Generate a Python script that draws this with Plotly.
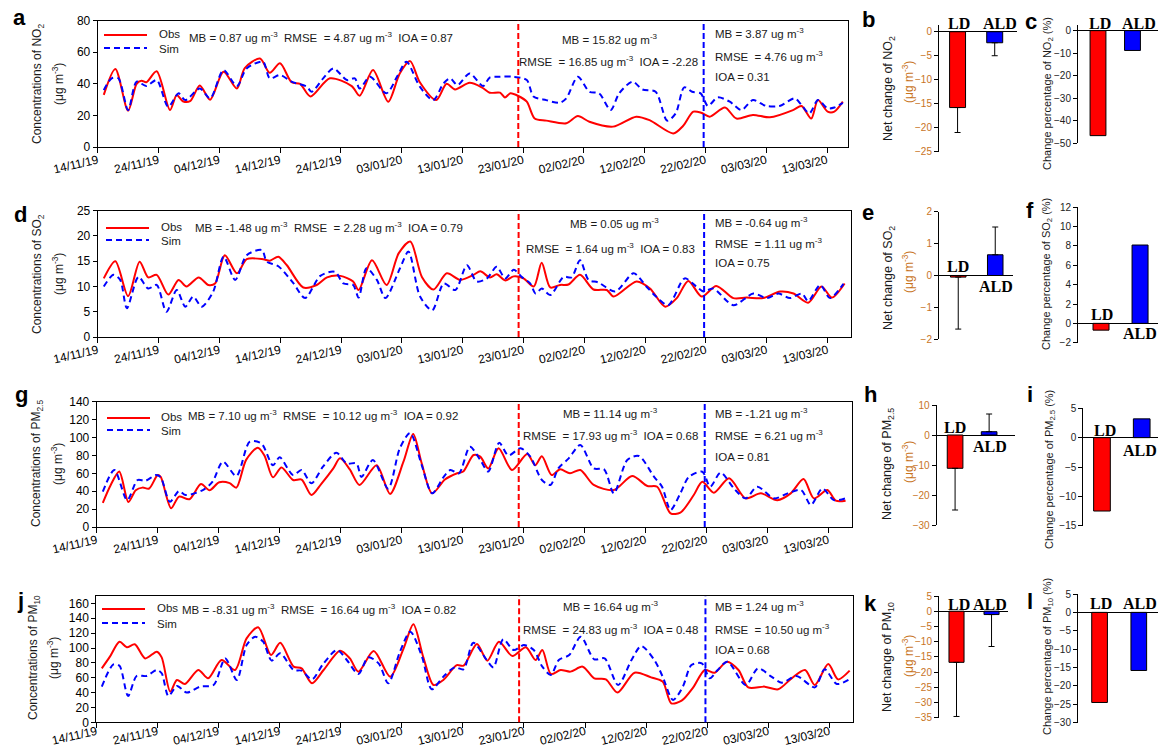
import plotly.graph_objects as go

W, H = 1158, 748
FONT = "Liberation Sans, Arial, sans-serif"
SERIF = "Liberation Serif, Times New Roman, serif"

# ---------------- data ----------------
tick_days = [0, 10, 20, 30, 40, 50, 60, 70, 80, 90, 100, 110, 120]
tick_labels = ["14/11/19", "24/11/19", "04/12/19", "14/12/19", "24/12/19", "03/01/20",
               "13/01/20", "23/01/20", "02/02/20", "12/02/20", "22/02/20", "03/03/20", "13/03/20"]
event_days = [69.2, 99.7]          # lockdown start / after-lockdown start (days since 14/11/19)
event_colors = ["#FF0000", "#0000FF"]

no2_obs_day = [1, 2.9, 5, 6.4, 7.2, 8, 9.7, 11.9, 13, 14, 15.2, 16.8, 18.5, 20.7, 22.9, 24.2, 26.7, 28.3, 30,
               31.9, 33.3, 35, 38.2, 41.8, 43.1, 45.3, 47.8, 49.7, 51.4, 53, 55.7, 57.4, 58.8, 61.2, 63.2,
               64.5, 66.2, 67, 67.9, 69.2, 70.6, 71.9, 73.8, 77.1, 79, 80.9, 84.8, 88.6, 90.8, 94.7, 96.3,
               98, 99.3, 100.7, 103.2, 105.1, 107.8, 110.6, 114.4, 115.8, 117.4, 118.5, 120.1, 121.2, 122.6]
no2_obs = [33, 49.4, 23, 40, 42, 41, 48, 23.4, 33, 29, 29, 39, 30, 47.7, 37, 50, 56, 47, 53,
           41, 40, 32, 43.5, 38.6, 32.5, 48.7, 28.7, 46.6, 54.4, 41, 29.7, 40, 36.5, 40.7, 37.8,
           34.4, 34.4, 31.4, 34, 32.3, 28.7, 18, 16.7, 15, 19.6, 16, 12.9, 19.2, 17, 8.6, 13.3,
           22.4, 21.7, 19.2, 25, 18, 20.3, 18.8, 23.4, 26, 18, 29.7, 22.4, 22.4, 28.7]
no2_sim_day = [1, 2.3, 3.4, 5, 6.4, 8, 9.7, 11.6, 13.3, 14.4, 16.8, 18.5, 20.7, 22.9, 24.5, 27.2, 28.3, 30,
               31.9, 34.4, 35.2, 37.1, 38.8, 41, 42.3, 43.1, 44.8, 47.5, 49.4, 50.8, 53, 55.2, 56.9, 58,
               59.2, 61.2, 63.4, 64.5, 66.2, 68.4, 70.6, 71.7, 73.8, 76, 77.1, 79, 80.9, 82.5, 84.4, 85.8,
               88, 89.6, 91.8, 93.7, 95.1, 96.5, 97.8, 99.2, 100.4, 102, 104, 105.9, 107.8, 110, 112.2,
               114.7, 115.8, 117.1, 118.5, 120.1, 121.2, 122.6]
no2_sim = [36, 43.5, 43.5, 23.4, 41.4, 38.6, 42.4, 25.5, 34, 29.7, 37, 30.8, 48.7, 38.6, 49.8, 54, 43.5, 45.6,
           41.4, 38.2, 35, 43.5, 49.8, 42.4, 43.5, 37, 44.5, 34, 45.6, 54, 38.2, 29.7, 40.3, 43.5,
           39.2, 46.6, 38.6, 44, 44.5, 44.5, 42.4, 32, 29.7, 28, 30.8, 44.5, 35, 34, 23.4, 34,
           41.4, 36.5, 35, 16.7, 21.3, 37.8, 35, 34, 26, 31.4, 28.7, 23.4, 29.7, 26, 26,
           30.8, 26.6, 21.3, 29.7, 24.5, 25, 28]

so2_obs_day = [1, 2.9, 5, 6.9, 8.3, 9.7, 11.6, 13.3, 14.6, 16.6, 18.2, 19.3, 20.9, 22.9, 24.5, 27.2, 28.3, 29.7,
               31.1, 33.8, 36, 37.7, 39.9, 42, 42.9, 45.1, 47.5, 49.5, 51.4, 53.3, 55.2, 57.4, 59.6, 61.8,
               62.9, 64.5, 65.6, 67, 68.4, 70, 71.7, 73, 74.4, 76, 77.4, 79.3, 81.5, 83.7, 84.8, 88.6, 90.8,
               93.3, 95.2, 97.1, 99.3, 101.7, 104.5, 106.7, 109.4, 112.2, 114.4, 116.8, 119, 120.7, 122.8]
so2_obs = [11.6, 15, 8.1, 14.9, 11.8, 12.3, 8.4, 11.3, 10, 11.8, 10.3, 10.6, 16.2, 12.6, 15.4, 15.4, 15.1, 15.9,
           14.2, 9.8, 10.3, 11.8, 12.1, 11, 9.3, 15.2, 10.3, 16.6, 18.9, 11.9, 9.4, 12.6, 11.3, 12.3,
           13, 11.8, 12.4, 11.2, 12, 11.6, 10, 14.7, 9.8, 10.3, 10.4, 12.3, 9.4, 9.3, 8, 11, 9.6,
           6, 7.7, 11.1, 8, 10.1, 7.7, 7.8, 7.7, 9, 8.6, 6.8, 10, 7.8, 10.6]
so2_sim_day = [1, 2.6, 3.7, 4.8, 6.7, 8.3, 9.7, 11.3, 13, 14.4, 15.7, 17.1, 19, 20.7, 22.6, 24.5, 27, 27.8, 29.7,
               32.2, 34.1, 36.6, 39, 40.4, 42, 42.9, 44.2, 45.9, 47.3, 49.7, 51.1, 53, 55, 56.9, 58.8, 60.7,
               62.3, 64, 65.6, 67, 68.4, 69.8, 71.1, 72, 73, 74.4, 76.6, 77.9, 79.3, 80.7, 82.3, 85.1, 88.1,
               90.2, 91.8, 93.8, 96.5, 98.4, 99.6, 101.2, 104.5, 107.8, 110, 111.9, 113.8, 115.8, 116.8,
               118.8, 120.4, 122.6]
so2_sim = [10, 12.3, 11.3, 5.7, 11.9, 9.6, 10.3, 5, 9.3, 6, 8, 6, 9, 15.9, 11.3, 16.2, 17.2, 14.9, 14,
           10.6, 7.7, 12.1, 12.9, 10.6, 10.3, 7.8, 13.6, 11.3, 7.7, 13.6, 16.9, 8, 5.3, 10.6, 9.3, 14.2,
           11, 11.6, 13.9, 11.6, 13.3, 11.8, 10.6, 8.6, 9.6, 8.3, 11.9, 11.8, 15.2, 11.3, 10.8, 9, 12.6,
           10, 8, 6.3, 11.6, 10, 9, 9.6, 6.3, 8.6, 7.7, 8.6, 7.7, 8.6, 7.1,
           10.3, 7.7, 10.5]

pm25_obs_day = [1, 2.3, 3.7, 5.2, 6.4, 7.5, 8.6, 10, 10.5, 12.2, 13.5, 15.2, 17.1, 18.5, 20.1, 21.8, 22.9, 24.5,
                26.4, 27.5, 28.9, 30.3, 32.2, 33.6, 35.2, 36.8, 38.8, 39.9, 41.5, 43.1, 45.9, 48.1, 50.3, 51.9,
                53.3, 55, 57.1, 59.1, 60.1, 61.8, 62.9, 64.2, 65.9, 68.1, 70.6, 71.9, 73, 74.6, 76, 77.6, 79.3,
                81.5, 84.8, 87.8, 90.3, 91.9, 94.1, 95.7, 97.9, 99.3, 101.2, 103.7, 106.4, 108.9, 111.6, 113.8,
                115.9, 117.6, 119.8, 121.2, 122.8]
pm25_obs = [27, 47, 62, 28, 41, 44, 43, 58, 56, 21, 34, 31, 48, 41, 50, 49, 44, 75,
            88.6, 80, 55.5, 66.6, 52.5, 53, 35.7, 48, 65.5, 76.7, 64.4, 47, 69, 37, 73, 104,
            71, 37.6, 53, 60, 62, 80.4, 78.6, 65.5, 88, 63.7, 81.5, 69, 79, 58, 64.4, 60, 63.7,
            47, 41.3, 57, 45.8, 45, 15.3, 16, 35.7, 50.6, 38.3, 54.4, 32, 37.6, 30, 37.6,
            53.6, 32, 41.3, 29.4, 29.4]
pm25_sim_day = [1, 2.9, 5, 6.7, 8, 9.7, 10.5, 12, 13.5, 14.6, 17.4, 19, 20.7, 22.9, 25.1, 27, 28.9, 30, 32.2,
                33.6, 35.2, 37.1, 39.3, 41, 42.6, 43.4, 45.3, 47.8, 49.7, 51.4, 53.3, 55, 56.9, 58, 59.4,
                61.2, 62.9, 64.2, 66, 67.5, 69.5, 71.1, 73, 74.4, 75.7, 77.4, 79.3, 81.5, 83.2, 84.8, 87,
                88.9, 91.4, 92.7, 94.1, 95.7, 97.1, 99.3, 100.6, 102.3, 104.5, 106.4, 108.3, 111.1, 113.3,
                115.5, 117.1, 119, 120.9, 122.8]
pm25_sim = [39.5, 63.7, 30, 52.5, 51.7, 58, 55.5, 28.3, 40.2, 35.7, 41.3, 50.6, 73, 57, 95.3, 93.4, 69, 77.8, 58,
            63.7, 48.8, 67.4, 83, 71, 71, 56, 74.8, 43, 87.9, 105, 69, 37.6, 56, 63.7, 60,
            89.7, 74.8, 62, 94, 80, 88, 78.6, 52.5, 47, 65.5, 76.7, 91.6, 65.5, 64.4, 37.6, 74.8,
            79.3, 56, 45, 19, 37.6, 56, 61.8, 45, 60.7, 43, 32, 45, 32, 37.6,
            41.3, 24.6, 43, 30, 32]

pm10_obs_day = [0.9, 2.2, 3.8, 5, 6.3, 8, 9.9, 10.7, 12.1, 13.2, 14.5, 16.7, 18.3, 20.5, 22.7, 24.6, 26.5, 28.6,
                30.1, 32.3, 33.6, 35.3, 37.2, 39.9, 41.5, 42.9, 45.4, 48.1, 50.3, 51.9, 53.5, 55.2, 56.8, 59,
                60.1, 62.3, 64, 65.9, 68.1, 70.3, 71.9, 73, 74.4, 76, 77.6, 79.6, 81.5, 83.4, 85.3, 88.1, 90.8,
                92.7, 94.1, 95.8, 97.7, 99.6, 101.2, 103.2, 105.1, 106.7, 109.4, 111.6, 113.8, 116, 117.6,
                119.8, 121.4, 123.3]
pm10_obs = [72.6, 88, 108.5, 101, 105, 86, 95, 87.4, 41.3, 57, 51.6, 70.4, 59.2, 83.9, 70.4, 113, 127.8, 90.6,
            107, 74.9, 72.6, 52.5, 70.4, 96.4, 86, 68.2, 96, 61.4, 99.6, 132, 88.3, 50.2, 57, 77,
            76.2, 105.4, 83, 108.5, 89.2, 101, 83.9, 97.3, 65, 70.4, 68.2, 74.9, 59.2, 57.8, 40, 66.8, 60.5,
            54.7, 25.6, 29.1, 47, 70.4, 66.8, 81.6, 70.4, 47, 48, 44.4, 59.2, 70.4, 50.2,
            78.5, 57.8, 69.5]
pm10_sim_day = [0.9, 2.8, 3.8, 5.2, 6.6, 8.2, 9.9, 10.7, 11.8, 13.2, 14.8, 17, 19.2, 21.1, 23, 24.6, 26, 27.3,
                28.7, 30.1, 32.3, 33.6, 35.3, 37.2, 39.4, 41, 42.9, 44.5, 46.2, 47.8, 49.7, 51.4, 53.3, 54.9,
                56.8, 58.7, 60.1, 61.7, 63.9, 65, 66.6, 68.3, 70, 71.6, 73, 74.4, 75.7, 77.4, 79.3, 81.5, 83.2,
                85.4, 87.6, 89.2, 91.4, 92.7, 94.4, 96, 97.4, 99.1, 100.4, 101.7, 103.3, 106.3, 108.3, 110.5,
                112.2, 114.6, 117.6, 119.2, 121.2, 123.1]
pm10_sim = [48, 78, 76, 35.4, 62.3, 62.3, 70.4, 66, 35.4, 48.9, 40, 48, 50.2, 86, 57, 104, 115, 108.5,
            83, 92.8, 70.4, 69.5, 57.8, 79.4, 97.3, 83.9, 65, 87.4, 79.4, 52.5, 95, 122, 88.3, 44.4,
            61.4, 74, 71.3, 107, 83.9, 74, 111.7, 97.3, 104, 97.3, 74.9, 63.7, 83.9, 90.6, 115, 84.8, 86,
            50.2, 83.9, 102.7, 83, 61.4, 30, 48, 77, 79.4, 59.2, 70.4, 81.6, 50.2, 72.6, 61.4,
            53.4, 62.3, 47, 71.3, 51.6, 57]

periods = ["LD", "ALD"]
bar_colors = ["#FF0000", "#0000FF"]
net_no2 = [-15.8, -2.3];   net_no2_up = [0, 0];     net_no2_down = [5.2, 2.7]
pct_no2 = [-46.6, -8.8]
net_so2 = [-0.05, 0.65];   net_so2_up = [0, 0.87];  net_so2_down = [1.63, 0]
pct_so2 = [-0.7, 8.1]
net_pm25 = [-11.1, 1.1];   net_pm25_up = [0, 5.9];  net_pm25_down = [13.9, 0]
pct_pm25 = [-12.5, 3.2]
net_pm10 = [-16.8, -1.1];  net_pm10_up = [0, 0];    net_pm10_down = [17.8, 10.5]
pct_pm10 = [-24.5, -15.8]

# ---------------- helpers ----------------
def fx(p):
    return p / W

def fy(p):
    return 1 - p / H

def suf(n):
    return "" if n == 1 else str(n)

fig = go.Figure()
layout = dict(template="none", width=W, height=H, margin=dict(l=0, r=0, t=0, b=0, pad=0, autoexpand=False),
              paper_bgcolor="white", plot_bgcolor="rgba(0,0,0,0)", showlegend=False,
              font=dict(family=FONT, color="black", size=12))
ann = []
shapes = []

def text(x, y, s, size=12, color="#1a1a1a", xanchor="left", angle=0, family=FONT, bold=False):
    if bold:
        s = "<b>" + s + "</b>"
    ann.append(dict(x=fx(x), y=fy(y), xref="paper", yref="paper", text=s, showarrow=False,
                    xanchor=xanchor, yanchor="middle", textangle=angle,
                    font=dict(size=size, color=color, family=family)))

U = "ug m<sup>-3</sup>"
MU = "(\u03bcg m<sup>-3</sup>)"

ts_panels = [
    dict(n=1, letter="a", lpos=(19, 18), sp="NO<sub>2</sub>", xd=(97.7, 848), yd=(20.7, 147), xmax=123.45,
         yr=(0, 80), dt=20, obs=(no2_obs_day, no2_obs), sim=(no2_sim_day, no2_sim), so=-4,
         leg=(104, 147, 35, 48, 157), tl=(38, 58, 84),
         s1=(187, 36.7, "MB = 0.87 " + U + "  RMSE  = 4.87 " + U + "  IOA = 0.87"),
         s2=(610, 39, "MB = 15.82 " + U), s3=(608, 61, "RMSE  = 16.85 " + U + "  IOA = -2.28"),
         r=(713, [33, 56, 77], ["MB = 3.87 " + U, "RMSE  = 4.76 " + U, "IOA = 0.31"])),
    dict(n=4, letter="d", lpos=(20, 214), sp="SO<sub>2</sub>", xd=(97.7, 850.7), yd=(210.7, 337), xmax=123.8,
         yr=(0, 25), dt=5, obs=(so2_obs_day, so2_obs), sim=(so2_sim_day, so2_sim), so=-4,
         leg=(106, 149, 228, 240, 159), tl=(38, 58, 274),
         s1=(193, 226.7, "MB = -1.48 " + U + "  RMSE  = 2.28 " + U + "  IOA = 0.79"),
         s2=(614, 223, "MB = 0.05 " + U), s3=(611, 248, "RMSE  = 1.64 " + U + "  IOA = 0.83"),
         r=(713, [222, 243, 263], ["MB = -0.64 " + U, "RMSE  = 1.11 " + U, "IOA = 0.75"])),
    dict(n=7, letter="g", lpos=(21, 394), sp="PM<sub>2.5</sub>", xd=(96.7, 851.7), yd=(401.7, 527), xmax=123.8,
         yr=(0, 140), dt=20, obs=(pm25_obs_day, pm25_obs), sim=(pm25_sim_day, pm25_sim), so=-4,
         leg=(107, 150, 418, 430, 159), tl=(37, 57, 464),
         s1=(186, 415, "MB = 7.10 " + U + "  RMSE  = 10.12 " + U + "  IOA = 0.92"),
         s2=(611, 413, "MB = 11.14 " + U), s3=(611, 435, "RMSE  = 17.93 " + U + "  IOA = 0.68"),
         r=(713, [413, 435, 457], ["MB = -1.21 " + U, "RMSE  = 6.21 " + U, "IOA = 0.81"])),
    dict(n=10, letter="j", lpos=(20, 600), sp="PM<sub>10</sub>", xd=(96.3, 852.7), yd=(596, 722.3), xmax=123.8,
         yr=(0, 170), dt=20, obs=(pm10_obs_day, pm10_obs), sim=(pm10_sim_day, pm10_sim), so=-8,
         leg=(102, 145, 609, 623, 155), tl=(34, 53, 658),
         s1=(180, 609, "MB = -8.31 " + U + "  RMSE  = 16.64 " + U + "  IOA = 0.82"),
         s2=(611, 606, "MB = 16.64 " + U), s3=(611, 629, "RMSE  = 24.83 " + U + "  IOA = 0.48"),
         r=(713, [606, 629, 650], ["MB = 1.24 " + U, "RMSE  = 10.50 " + U, "IOA = 0.68"])),
]

for p in ts_panels:
    n = p["n"]
    xs, ys = "x" + suf(n), "y" + suf(n)
    fig.add_trace(go.Scatter(x=p["obs"][0], y=p["obs"][1], mode="lines", name="Obs",
                             line=dict(color="#FF0000", width=2, shape="spline", smoothing=0.8),
                             xaxis=xs, yaxis=ys))
    fig.add_trace(go.Scatter(x=p["sim"][0], y=p["sim"][1], mode="lines", name="Sim",
                             line=dict(color="#0000FF", width=2, dash="6px,4px", shape="spline", smoothing=0.8),
                             xaxis=xs, yaxis=ys))
    layout["xaxis" + suf(n)] = dict(domain=[fx(p["xd"][0]), fx(p["xd"][1])], range=[0, p["xmax"]], anchor=ys,
                                    tickmode="array", tickvals=tick_days, ticktext=tick_labels, tickangle=-13,
                                    ticks="outside", ticklen=5, tickcolor="black", showline=True,
                                    linecolor="black", linewidth=1, mirror=True, showgrid=False,
                                    zeroline=False, automargin=False, ticklabelstandoff=p["so"],
                                    tickfont=dict(size=12, color="black"))
    layout["yaxis" + suf(n)] = dict(domain=[fy(p["yd"][1]), fy(p["yd"][0])], range=list(p["yr"]), dtick=p["dt"],
                                    anchor=xs, ticks="outside", ticklen=4, tickcolor="black", showline=True,
                                    linecolor="black", linewidth=1, mirror=True, showgrid=False,
                                    zeroline=False, automargin=False, tickfont=dict(size=12, color="black"))
    for d, c in zip(event_days, event_colors):
        shapes.append(dict(type="line", xref=xs, yref=ys + " domain", x0=d, x1=d, y0=0, y1=1,
                           line=dict(color=c, width=2, dash="6px,3px")))
    # legend (Obs / Sim)
    lx0, lx1, ly1, ly2, ltx = p["leg"]
    shapes.append(dict(type="line", xref="paper", yref="paper", x0=fx(lx0), x1=fx(lx1), y0=fy(ly1), y1=fy(ly1),
                       line=dict(color="#FF0000", width=2)))
    shapes.append(dict(type="line", xref="paper", yref="paper", x0=fx(lx0), x1=fx(lx1), y0=fy(ly2), y1=fy(ly2),
                       line=dict(color="#0000FF", width=2, dash="6px,4px")))
    text(ltx, ly1 - 1, "Obs", size=11.5)
    text(ltx, ly2 + 1, "Sim", size=11.5)
    # stats
    text(p["s1"][0], p["s1"][1], p["s1"][2], size=11.5)
    text(p["s2"][0], p["s2"][1], p["s2"][2], size=11.5, xanchor="center")
    text(p["s3"][0], p["s3"][1], p["s3"][2], size=11.5, xanchor="center")
    for yy, ss in zip(p["r"][1], p["r"][2]):
        text(p["r"][0], yy, ss, size=11.5)
    # titles
    text(p["tl"][0], p["tl"][2], "Concentrations of " + p["sp"], size=12, color="#1a1a1a", xanchor="center", angle=-90)
    text(p["tl"][1], p["tl"][2], MU, size=12, color="#1a1a1a", xanchor="center", angle=-90)
    text(p["lpos"][0], p["lpos"][1], p["letter"], size=22, color="black", xanchor="center", bold=True)

ORANGE = "#c8741e"
bar_panels = [
    dict(n=2, letter="b", lpos=(868, 20), vals=net_no2, up=net_no2_up, dn=net_no2_down,
         xd=(939, 1017), yd=(25, 151.7), yr=(-25, 1.4), dt=5, xr=(-0.5, 1.6), bw=0.43, tc=ORANGE,
         t1=(889, 89, "Net change of NO<sub>2</sub>"), t2=(908, 82, MU),
         labs=[(958.7, 23), (999.7, 23)]),
    dict(n=3, letter="c", lpos=(1031, 21), vals=pct_no2, up=None, dn=None,
         xd=(1078, 1158), yd=(25, 143.3), yr=(-50, 2.5), dt=10, xr=(-0.58, 1.74), bw=0.46, tc="#222222",
         t1=(1048, 94, "Change percentage of NO<sub>2</sub> (%)"), t2=None,
         labs=[(1100, 23), (1139, 23)]),
    dict(n=5, letter="e", lpos=(868, 212), vals=net_so2, up=net_so2_up, dn=net_so2_down,
         xd=(939, 1013), yd=(211.7, 339.3), yr=(-2, 2), dt=1, xr=(-0.52, 1.48), bw=0.42, tc=ORANGE,
         t1=(889, 278, "Net change of SO<sub>2</sub>"), t2=(908, 272, MU),
         labs=[(958, 266), (996, 286.7)]),
    dict(n=6, letter="f", lpos=(1030, 210), vals=pct_so2, up=None, dn=None,
         xd=(1078, 1158), yd=(207.3, 342.7), yr=(-2, 12), dt=2, xr=(-0.59, 1.46), bw=0.41, tc="#222222",
         t1=(1047, 274, "Change percentage of SO<sub>2</sub> (%)"), t2=None,
         labs=[(1101.7, 314), (1139.5, 333)]),
    dict(n=8, letter="h", lpos=(870, 394), vals=net_pm25, up=net_pm25_up, dn=net_pm25_down,
         xd=(936.7, 1015), yd=(405, 525), yr=(-30, 10), dt=10, xr=(-0.54, 1.76), bw=0.46, tc=ORANGE,
         t1=(888, 464, "Net change of PM<sub>2.5</sub>"), t2=(908, 462, MU),
         labs=[(954.5, 428), (989.5, 447)]),
    dict(n=9, letter="i", lpos=(1030, 394), vals=pct_pm25, up=None, dn=None,
         xd=(1083.3, 1158), yd=(408.3, 525.7), yr=(-15, 5), dt=5, xr=(-0.47, 1.41), bw=0.42, tc="#222222",
         t1=(1050, 470, "Change percentage of PM<sub>2.5</sub> (%)"), t2=None,
         labs=[(1105, 430), (1139.5, 450.7)]),
    dict(n=11, letter="k", lpos=(870, 603), vals=net_pm10, up=net_pm10_up, dn=net_pm10_down,
         xd=(939, 1008), yd=(596, 717.7), yr=(-35, 5), dt=5, xr=(-0.5, 1.47), bw=0.43, tc=ORANGE,
         t1=(888, 657, "Net change of PM<sub>10</sub>"), t2=(908, 656, MU),
         labs=[(959, 604.3), (990, 604.3)]),
    dict(n=12, letter="l", lpos=(1030, 601), vals=pct_pm10, up=None, dn=None,
         xd=(1078, 1158), yd=(594, 722.7), yr=(-30, 5), dt=5, xr=(-0.55, 1.49), bw=0.40, tc="#222222",
         t1=(1048, 657, "Change percentage of PM<sub>10</sub> (%)"), t2=None,
         labs=[(1100.7, 603.3), (1139.5, 603.3)]),
]

for p in bar_panels:
    n = p["n"]
    xs, ys = "x" + suf(n), "y" + suf(n)
    err = None
    if p["up"] is not None:
        err = dict(type="data", symmetric=False, array=p["up"], arrayminus=p["dn"], color="black",
                   thickness=1, width=3)
    fig.add_trace(go.Bar(x=periods, y=p["vals"], width=p["bw"], error_y=err,
                         marker=dict(color=bar_colors, line=dict(color="black", width=1)),
                         xaxis=xs, yaxis=ys))
    layout["xaxis" + suf(n)] = dict(domain=[fx(p["xd"][0]), fx(p["xd"][1])], range=list(p["xr"]), anchor=ys,
                                    visible=False, type="category", automargin=False)
    layout["yaxis" + suf(n)] = dict(domain=[fy(p["yd"][1]), fy(p["yd"][0])], range=list(p["yr"]), dtick=p["dt"],
                                    anchor=xs, ticks="outside", ticklen=4, tickcolor="black", showline=True,
                                    linecolor="black", linewidth=1, showgrid=False, zeroline=True,
                                    zerolinecolor="black", zerolinewidth=1, automargin=False,
                                    tickfont=dict(size=10, color=p["tc"]))
    if p["t2"] is None:
        text(p["t1"][0], p["t1"][1], p["t1"][2], size=11, color="#1a1a1a", xanchor="center", angle=-90)
    else:
        text(p["t1"][0], p["t1"][1], p["t1"][2], size=12.5, color="#1a1a1a", xanchor="center", angle=-90)
        text(p["t2"][0], p["t2"][1], p["t2"][2], size=12, color=ORANGE, xanchor="center", angle=-90)
    for (lx, ly), lab in zip(p["labs"], periods):
        text(lx, ly, lab, size=16, color="black", xanchor="center", family=SERIF, bold=True)
    text(p["lpos"][0], p["lpos"][1], p["letter"], size=22, color="black", xanchor="center", bold=True)

layout["annotations"] = ann
layout["shapes"] = shapes
fig.update_layout(**layout)
fig.write_html("out.html", config={"displayModeBar": False, "staticPlot": True},
               post_script="document.body.style.margin='0';document.body.style.padding='0';"
                           "document.body.style.overflow='hidden';")
